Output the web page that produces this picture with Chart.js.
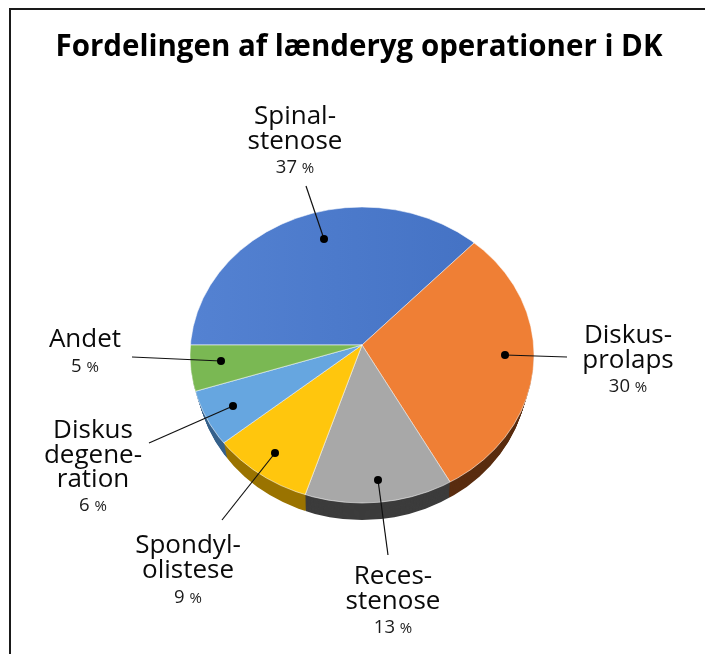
<!DOCTYPE html>
<html>
<head>
<meta charset="utf-8">
<script src="https://cdn.jsdelivr.net/npm/chart.js@4"></script>
<style>
    html, body { margin: 0; padding: 0; background: #fff; overflow: hidden; }
    #wrap { position: relative; width: 705px; height: 654px; }
    #frame { position: absolute; left: 9px; top: 8px; width: 700px; height: 650px; border: 2px solid #1a1a1a; box-sizing: border-box; }
    canvas { position: absolute; left: 0; top: 0; }
</style>
</head>
<body>
<div id="wrap">
    <div id="frame"></div>
    <canvas id="chart" width="705" height="654"></canvas>
</div>
<script>
const chartTitle = 'Fordelingen af lænderyg operationer i DK';
const categories = ['Spinalstenose', 'Diskusprolaps', 'Recesstenose', 'Spondylolistese', 'Diskusdegeneration', 'Andet'];
const labelLines = [['Spinal-', 'stenose'], ['Diskus-', 'prolaps'], ['Reces-', 'stenose'], ['Spondyl-', 'olistese'], ['Diskus', 'degene-', 'ration'], ['Andet']];
const values = [37, 30, 13, 9, 6, 5];
const topColors = ['#4472c4', '#ef7f35', '#a8a8a8', '#ffc60d', '#66a6e0', '#7ab853'];
const blueLeft = '#5482d2';
const wallColors = [['#2a4576', '#2a4576'], ['#6b3712', '#5a2d10'], ['#474747', '#3c3c3c'], ['#9a7300', '#5e4700'], ['#44719c', '#37628c'], ['#47702f', '#47702f']];

// where the pie sits on the page (perspective look of the original)
const apex = { x: 362, y: 345 };
const rim = { x: 362, y: 355, rx: 172, ry: 148 };
const tilt = 0.855;
const depth = 17;

// label block + leader line for each slice: text centre, first baseline, leader from/to
const callouts = [
    { cx: 295, y: 124, pctY: 173, from: [306, 186], to: [324, 239] },
    { cx: 628, y: 343, pctY: 392, from: [567, 357], to: [505, 355] },
    { cx: 393, y: 584, pctY: 633, from: [388, 555], to: [378, 480] },
    { cx: 188, y: 553, pctY: 603, from: [222, 520], to: [275, 453] },
    { cx: 93, y: 438, pctY: 511, from: [149, 443], to: [233, 406] },
    { cx: 85, y: 347, pctY: 372, from: [132, 357], to: [221, 361] }
];

function ellipsePath(ctx, cy, rx, ry) {
    ctx.beginPath();
    ctx.ellipse(rim.x, cy, rx, ry, 0, 0, Math.PI * 2);
}

const pie3d = {
    id: 'pie3d',
    beforeDatasetsDraw(chart) {
        const ctx = chart.ctx;
        const arcs = chart.getDatasetMeta(0).data;

        // side wall: sweep the slices downwards, deepest layer first
        for (let d = depth; d >= 1; d--) {
            const shrink = 6 * d / depth;
            ctx.save();
            ellipsePath(ctx, rim.y + d, rim.rx - shrink, rim.ry);
            ctx.clip();
            arcs.forEach((arc, i) => {
                const grad = ctx.createLinearGradient(rim.x - rim.rx, 0, rim.x + rim.rx * 0.3, 0);
                grad.addColorStop(0, wallColors[i][0]);
                grad.addColorStop(1, wallColors[i][1]);
                ctx.save();
                ctx.translate(apex.x, apex.y + d);
                ctx.scale(1, tilt);
                ctx.beginPath();
                ctx.moveTo(0, 0);
                ctx.arc(0, 0, arc.outerRadius, arc.startAngle, arc.endAngle);
                ctx.closePath();
                ctx.fillStyle = i === 3 ? grad : wallColors[i][1];
                ctx.fill();
                ctx.restore();
            });
            ctx.restore();
        }

        // top face: clip to the rim and squash, the arcs themselves come from the controller
        const arc = arcs[0];
        ctx.save();
        ellipsePath(ctx, rim.y, rim.rx, rim.ry);
        ctx.clip();
        ctx.translate(apex.x, apex.y);
        ctx.scale(1, tilt);
        ctx.translate(-arc.x, -arc.y);
    },
    afterDatasetsDraw(chart) {
        const ctx = chart.ctx;
        ctx.restore();

        ellipsePath(ctx, rim.y, rim.rx, rim.ry);
        ctx.strokeStyle = 'rgba(255,255,255,0.55)';
        ctx.lineWidth = 1;
        ctx.stroke();

        callouts.forEach((c, i) => {
            ctx.beginPath();
            ctx.moveTo(c.from[0], c.from[1]);
            ctx.lineTo(c.to[0], c.to[1]);
            ctx.strokeStyle = '#111';
            ctx.lineWidth = 1.2;
            ctx.stroke();
            ctx.beginPath();
            ctx.arc(c.to[0], c.to[1], 4, 0, Math.PI * 2);
            ctx.fillStyle = '#000';
            ctx.fill();

            ctx.textBaseline = 'alphabetic';
            ctx.textAlign = 'center';
            ctx.fillStyle = '#0a0a0a';
            ctx.font = '26px "Open Sans"';
            labelLines[i].forEach((line, n) => ctx.fillText(line, c.cx, c.y + n * 24.6));

            // percent: number bigger than the sign
            const num = values[i] + ' ';
            ctx.textAlign = 'left';
            ctx.fillStyle = '#1a1a1a';
            ctx.font = '18.5px "Open Sans"';
            const w1 = ctx.measureText(num).width;
            ctx.font = '15px "Open Sans"';
            const w2 = ctx.measureText('%').width;
            const x0 = c.cx - (w1 + w2) / 2;
            ctx.fillText('%', x0 + w1, c.pctY);
            ctx.font = '18.5px "Open Sans"';
            ctx.fillText(num, x0, c.pctY);
        });
    }
};

const chartCtx = document.getElementById('chart').getContext('2d');
const blueFill = chartCtx.createLinearGradient(187, 0, 480, 0);
blueFill.addColorStop(0, blueLeft);
blueFill.addColorStop(1, topColors[0]);

new Chart(chartCtx, {
    type: 'pie',
    data: {
        labels: categories,
        datasets: [{
            data: values,
            backgroundColor: [blueFill].concat(topColors.slice(1)),
            borderColor: 'rgba(255,255,255,0.6)',
            borderWidth: 1,
            clip: false
        }]
    },
    options: {
        responsive: false,
        animation: false,
        events: [],
        rotation: 270,
        radius: 230,
        layout: { padding: { left: 13 } },
        plugins: {
            legend: { display: false },
            tooltip: { enabled: false },
            title: {
                display: true,
                text: chartTitle,
                color: '#000',
                font: { family: '"Open Sans"', size: 29.5, weight: '700' },
                padding: { top: 30, bottom: 10 }
            }
        }
    },
    plugins: [pie3d]
});
</script>
</body>
</html>
